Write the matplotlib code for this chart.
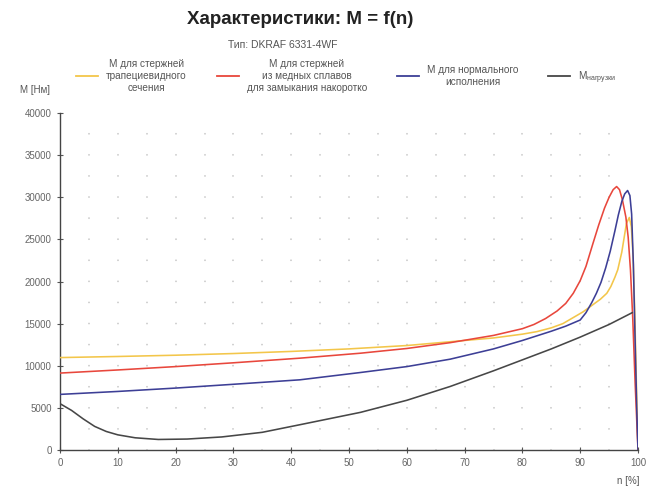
import matplotlib
matplotlib.use("Agg")
import matplotlib.pyplot as plt
from matplotlib.lines import Line2D

plt.rcParams['font.family'] = ['Liberation Sans', 'DejaVu Sans']

# ---- data ----
n_trap = [0, 10, 20, 30, 40, 50, 60, 65, 70, 75, 80, 82.5, 85, 87, 89, 90.5, 91.5,
          93.5, 94.6, 95.3, 96, 96.5, 97.2, 97.6, 98.0, 98.5, 98.85, 99.15, 99.45,
          99.75, 100]
M_trap = [10970, 11100, 11250, 11450, 11700, 12000, 12400, 12700, 13000, 13300,
          13750, 14050, 14500, 15000, 15800, 16400, 16900, 17900, 18600, 19400,
          20500, 21400, 23500, 25200, 26900, 27600, 26500, 23000, 16000, 7000, 0]

n_copper = [0, 10, 20, 30, 41.5, 52, 60, 67.5, 75, 80, 82, 84, 86, 87.5, 88.8, 90,
            91, 92.2, 93.2, 94.2, 95, 95.7, 96.3, 96.8, 97.3, 97.9, 98.3, 98.7, 99.1,
            99.5, 100]
M_copper = [9130, 9500, 9900, 10350, 10900, 11490, 12050, 12740, 13600, 14400,
            14900, 15600, 16500, 17400, 18600, 20100, 21800, 24500, 26700, 28700,
            30000, 30900, 31270, 30900, 29700, 27650, 25270, 21330, 15500, 8000, 0]

n_normal = [0, 10, 20, 30, 41.5, 52, 60, 67.5, 75, 80, 85, 87.5, 90, 91, 92, 92.8,
            93.6, 94.4, 95.2, 96.0, 96.6, 97.2, 97.7, 98.2, 98.6, 98.9, 99.2, 99.5,
            99.8, 100]
M_normal = [6600, 6950, 7350, 7800, 8330, 9200, 9900, 10780, 12000, 13000, 14100,
            14700, 15430, 16300, 17500, 18600, 19900, 21600, 23600, 26000, 27900,
            29500, 30400, 30800, 30200, 28000, 22000, 13000, 4500, 0]

n_load = [0, 2, 4, 6, 8, 10, 13, 17, 22, 28, 35, 41.5, 52, 60, 67.5, 75, 80, 85,
          90, 95, 99]
M_load = [5500, 4700, 3700, 2800, 2200, 1800, 1450, 1250, 1300, 1550, 2100, 3000,
          4470, 5900, 7540, 9400, 10700, 12000, 13400, 14900, 16300]

labels = ["M для стержней\nтрапециевидного\nсечения",
          "M для стержней\nиз медных сплавов\nдля замыкания накоротко",
          "M для нормального\nисполнения",
          "M$_{\\mathregular{нагрузки}}$"]
x_ticks = [0, 10, 20, 30, 40, 50, 60, 70, 80, 90, 100]
y_ticks = [0, 5000, 10000, 15000, 20000, 25000, 30000, 35000, 40000]

colors = ["#f3c64a", "#e8473c", "#3d3f96", "#474747"]

W, H = 656, 486
fig = plt.figure(figsize=(W / 100, H / 100), dpi=100)
ax = fig.add_axes([60 / W, 1 - 450 / H, (638 - 60) / W, (450 - 113) / H])

series = [(n_trap, M_trap), (n_copper, M_copper), (n_normal, M_normal), (n_load, M_load)]
for (xs, ys), c in zip(series, colors):
    ax.plot(xs, ys, color=c, lw=1.15, solid_joinstyle='round', zorder=3)

ax.set_xlim(0, 100)
ax.set_ylim(0, 40000)
ax.set_xticks(x_ticks)
ax.set_yticks(y_ticks)
ax.tick_params(direction='inout', length=4, width=0.8, colors='#555555',
               labelsize=7, labelcolor='#666666', pad=4)
for s in ['top', 'right']:
    ax.spines[s].set_visible(False)
for s in ['left', 'bottom']:
    ax.spines[s].set_color('#444444')
    ax.spines[s].set_linewidth(1.0)

# dotted grid: dots at every 5 % and every 2500 Nm
ax_h_pt = (450 - 113) * 72 / 100
gap = ax_h_pt / 16
for xv in range(5, 100, 5):
    ax.axvline(xv, color='#c8c8c8', lw=1.3, linestyle=(0, (0.01, gap / 1.3)),
               dash_capstyle='round', zorder=1)

fig.text(300 / W, 1 - 20 / H, "Характеристики: M = f(n)", ha='center', va='center',
         fontsize=13.5, fontweight='bold', color='#222222')
fig.text(283 / W, 1 - 45 / H, "Тип: DKRAF 6331-4WF", ha='center', va='center',
         fontsize=7.5, color='#555555')
fig.text(20 / W, 1 - 90 / H, "M [Нм]", ha='left', va='center', fontsize=7, color='#555555')
fig.text(628 / W, 1 - 481 / H, "n [%]", ha='center', va='center', fontsize=7, color='#555555')

handles = [Line2D([0], [0], color=c, lw=1.3) for c in colors]
leg = fig.legend(handles, labels, loc='center', bbox_to_anchor=(346 / W, 1 - 76 / H),
                 ncol=4, frameon=False, fontsize=7.2, handlelength=2.2,
                 handletextpad=0.8, columnspacing=3.0, labelcolor='#555555')
for t in leg.get_texts():
    t.set_multialignment('center')

fig.savefig("out.png", dpi=100, facecolor='white')
